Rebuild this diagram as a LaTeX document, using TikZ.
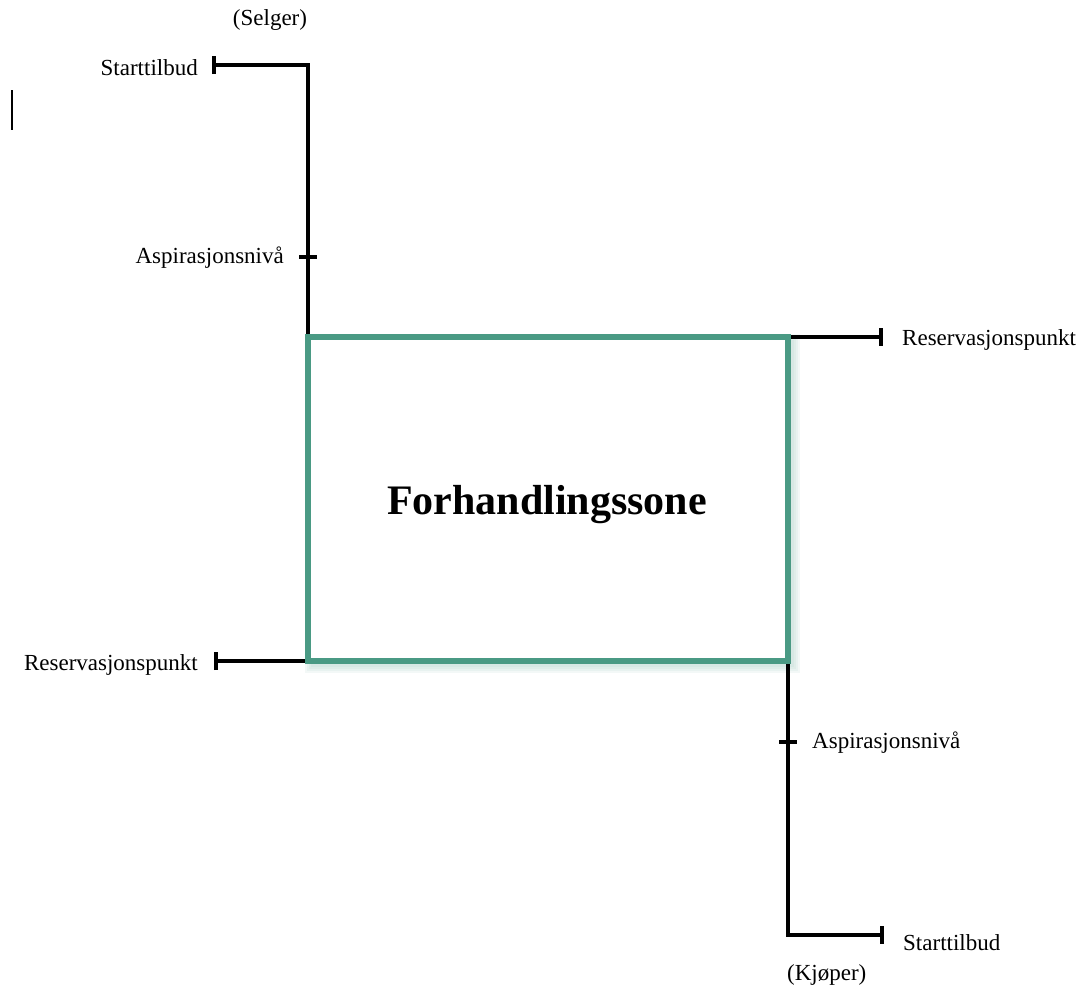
\documentclass[tikz,border=0pt]{standalone}
\usepackage{fontspec}
\setmainfont{Liberation Serif}
\usetikzlibrary{arrows.meta,backgrounds}
\definecolor{zonegreen}{HTML}{4A9A84}
\begin{document}
\begin{tikzpicture}[x=1pt,y=-1pt,
  lbl/.style={font=\fontsize{23}{27}\selectfont, inner sep=0pt},
  axisline/.style={line width=3.5pt, black},
  endbar/.style={-{Bar[width=18pt,line width=4pt]}},
  zonebox/.style={draw=zonegreen, fill=white, line width=6pt, minimum width=480pt, minimum height=324pt,
    inner sep=0pt, outer sep=0pt},
  titletext/.style={font=\fontsize{42}{48}\selectfont\bfseries, inner sep=0pt},
  glow/.style={draw=zonegreen!55, opacity=0.12}
]
\useasboundingbox (0,0) rectangle (1082,986);

\node[zonebox] (zone) at (548,499) {};
\node[titletext] (title) at (547,505) {Forhandlingssone};

% end points
\coordinate (st1) at (212,65);
\coordinate (rp1) at (214,661);
\coordinate (rp2) at (883,337);
\coordinate (st2) at (884,935);
\coordinate (asp1) at (308,257);
\coordinate (asp2) at (788,742);
\coordinate (cur1) at (12,90);
\coordinate (cur2) at (12,130);

\begin{scope}[on background layer]
  \foreach \w in {4,8,12,16}
    \draw[glow, line width=\w pt] ([shift={(5,5)}]zone.north west) rectangle ([shift={(4,4)}]zone.south east);
  \draw[axisline, endbar] (zone.north west) |- (st1);
  \draw[axisline, endbar] (zone.north east) -- (rp2);
  \draw[axisline, endbar] (zone.south west) -- (rp1);
  \draw[axisline, endbar] (zone.south east) |- (st2);
\end{scope}

\draw[axisline] ([xshift=-9pt]asp1) -- ([xshift=9pt]asp1);
\draw[axisline] ([xshift=-9pt]asp2) -- ([xshift=9pt]asp2);
\draw[line width=1.3pt] (cur1) -- (cur2);

\node[lbl] (selger) at (270,20) {(Selger)};
\node[lbl, anchor=east] (lst1) at (198,68) {Starttilbud};
\node[lbl, anchor=east] (lasp1) at (284,258) {Aspirasjonsnivå};
\node[lbl, anchor=east] (lrp1) at (198,665) {Reservasjonspunkt};
\node[lbl, anchor=west] (lrp2) at (902,340) {Reservasjonspunkt};
\node[lbl, anchor=west] (lasp2) at (812,743) {Aspirasjonsnivå};
\node[lbl, anchor=west] (lst2) at (903,943) {Starttilbud};
\node[lbl, anchor=west] (kjoper) at (787,975) {(Kjøper)};
\end{tikzpicture}
\end{document}
